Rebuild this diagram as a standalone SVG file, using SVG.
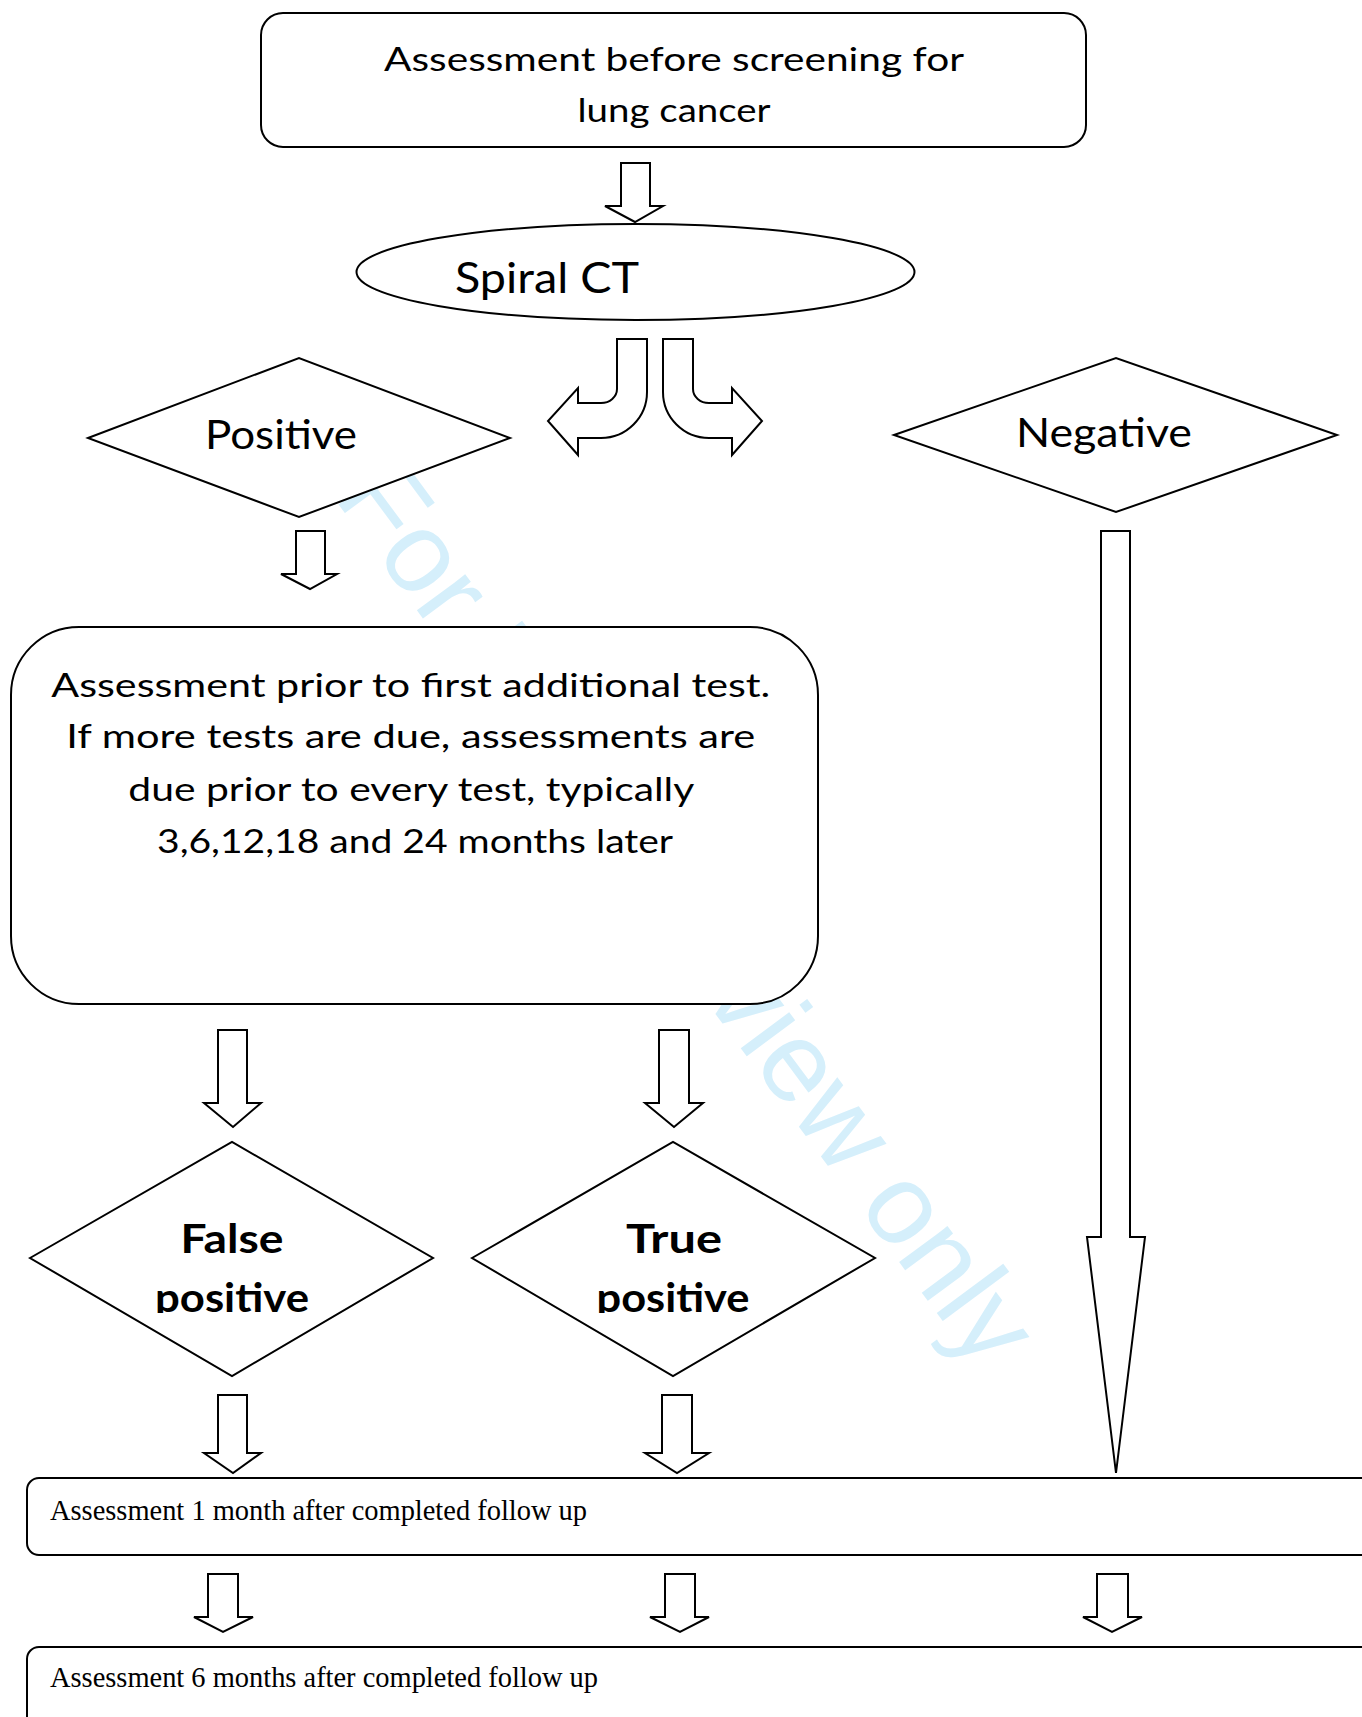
<svg xmlns="http://www.w3.org/2000/svg" width="1362" height="1717" viewBox="0 0 1362 1717">
<style>
.shape{fill:#fff;stroke:#000;stroke-width:2}
.arr{fill:#fff;stroke:#000;stroke-width:2;stroke-linejoin:miter}
.cs{font-family:Lato,"Open Sans",sans-serif;fill:#000}
.b{font-weight:bold}
.tm{font-family:"Liberation Serif","Times New Roman",serif;font-size:28.5px;fill:#000}
.wm{font-family:"Liberation Sans",Arial,sans-serif;font-size:114px;fill:#d5effb}
</style>
<defs>
<clipPath id="clipFP"><rect x="0" y="1100" width="1362" height="213"/></clipPath>
</defs>
<rect width="1362" height="1717" fill="#fff"/>
<text class="wm" transform="translate(333,497) rotate(53.5)">For Peer Review only</text>

<g id="connectors">
<path class="arr" d="M621,163 H650 V206 H663 L635,222 L605,206 H621 Z"/>
<path id="curveLeft" class="arr" d="M617,339 H647 V392 A46 46 0 0 1 601,438 H578 V455 L548,421 L578,388 V403 H601 A16 14 0 0 0 617,389 Z"/>
<path class="arr" transform="matrix(-1 0 0 1 1310 0)" d="M617,339 H647 V392 A46 46 0 0 1 601,438 H578 V455 L548,421 L578,388 V403 H601 A16 14 0 0 0 617,389 Z"/>
<path class="arr" d="M296,531 H325 V574 H337 L310,589 L281,574 H296 Z"/>
<path class="arr" d="M1101,531 H1130 V1237 H1145 L1116,1473 L1087,1237 H1101 Z"/>
<path class="arr" d="M218,1030 H247 V1103 H261 L233,1127 L204,1103 H218 Z"/>
<path class="arr" d="M659,1030 H689 V1103 H703 L674,1127 L645,1103 H659 Z"/>
<path class="arr" d="M218,1395 H247 V1453 H261 L233,1473 L204,1453 H218 Z"/>
<path class="arr" d="M662,1395 H692 V1453 H709 L677,1473 L645,1453 H662 Z"/>
<path class="arr" d="M208,1574 H238 V1617 H253 L223,1632 L194,1617 H208 Z"/>
<path class="arr" d="M665,1574 H695 V1617 H709 L680,1632 L650,1617 H665 Z"/>
<path class="arr" d="M1097,1574 H1128 V1617 H1142 L1112,1632 L1083,1617 H1097 Z"/>
</g>

<g id="node-start">
<rect class="shape" x="261" y="13" width="825" height="134" rx="22" ry="22"/>
<text class="cs" font-size="33" x="674" y="71" text-anchor="middle" textLength="580" lengthAdjust="spacingAndGlyphs">Assessment before screening for</text>
<text class="cs" font-size="33" x="674" y="122" text-anchor="middle" textLength="193" lengthAdjust="spacingAndGlyphs">lung cancer</text>
</g>

<g id="node-spiral">
<ellipse class="shape" cx="635.5" cy="272" rx="279" ry="48"/>
<text class="cs" font-size="43" x="455" y="293" textLength="184" lengthAdjust="spacingAndGlyphs">Spiral CT</text>
</g>

<g id="node-positive">
<polygon class="shape" points="88,438 299,358 510,438 299,517"/>
<text class="cs" font-size="40" x="205" y="449" textLength="152" lengthAdjust="spacingAndGlyphs">Positive</text>
</g>

<g id="node-negative">
<polygon class="shape" points="894,435 1116,358 1337,435 1116,512"/>
<text class="cs" font-size="40" x="1016" y="447" textLength="176" lengthAdjust="spacingAndGlyphs">Negative</text>
</g>

<g id="node-assess-prior">
<rect class="shape" x="11" y="627" width="807" height="377" rx="68" ry="68"/>
<text class="cs" font-size="33" text-anchor="middle">
<tspan x="415" y="697" textLength="719" lengthAdjust="spacingAndGlyphs">Assessment prior to first additional test.</tspan>
<tspan x="415" y="748" textLength="689" lengthAdjust="spacingAndGlyphs">If more tests are due, assessments are</tspan>
<tspan x="415" y="801" textLength="565" lengthAdjust="spacingAndGlyphs">due prior to every test, typically</tspan>
<tspan x="415" y="853" textLength="516" lengthAdjust="spacingAndGlyphs">3,6,12,18 and 24 months later</tspan>
</text>
</g>

<g id="node-false-positive">
<polygon class="shape" points="30,1258 232,1142 433,1258 232,1376"/>
<text class="cs b" font-size="40" x="232" y="1253" text-anchor="middle" textLength="103" lengthAdjust="spacingAndGlyphs">False</text>
<text class="cs b" font-size="40" x="232" y="1312" text-anchor="middle" textLength="154" lengthAdjust="spacingAndGlyphs" clip-path="url(#clipFP)">positive</text>
</g>

<g id="node-true-positive">
<polygon class="shape" points="472,1258 673,1142 875,1258 673,1376"/>
<text class="cs b" font-size="40" x="674" y="1253" text-anchor="middle" textLength="96" lengthAdjust="spacingAndGlyphs">True</text>
<text class="cs b" font-size="40" x="673" y="1312" text-anchor="middle" textLength="153" lengthAdjust="spacingAndGlyphs" clip-path="url(#clipFP)">positive</text>
</g>

<g id="node-1month">
<rect class="shape" x="27" y="1478" width="1400" height="77" rx="12" ry="12"/>
<text class="tm" x="50" y="1520" textLength="537" lengthAdjust="spacingAndGlyphs">Assessment 1 month after completed follow up</text>
</g>

<g id="node-6months">
<rect class="shape" x="27" y="1647" width="1400" height="120" rx="12" ry="12"/>
<text class="tm" x="50" y="1687" textLength="548" lengthAdjust="spacingAndGlyphs">Assessment 6 months after completed follow up</text>
</g>
</svg>
